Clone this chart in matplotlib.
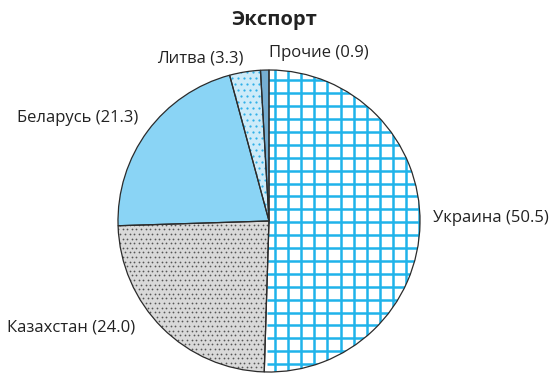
import numpy as np
import matplotlib
matplotlib.use('Agg')
import matplotlib.pyplot as plt
from matplotlib.patches import Wedge
from matplotlib.collections import LineCollection

plt.rcParams['font.family'] = ['Open Sans', 'DejaVu Sans']

title = 'Экспорт'
countries = ['Украина', 'Казахстан', 'Беларусь', 'Литва', 'Прочие']
shares = [50.5, 24.0, 21.3, 3.3, 0.9]

# label anchor (x, y in pixels from top-left) and horizontal alignment
label_pos = [(433, 218, 'left'), (135, 327, 'right'), (138, 118, 'right'),
             (200, 58, 'center'), (319, 53, 'center')]

W, H = 549, 374
fig = plt.figure(figsize=(W / 100, H / 100), dpi=100)
ax = fig.add_axes([0, 0, 1, 1])

cx, cy, r = 269, H - 221, 151
wedges, _ = ax.pie(shares, startangle=90, counterclock=False,
                   center=(cx, cy), radius=r)
ax.set_xlim(0, W)
ax.set_ylim(0, H)
ax.set_aspect('equal')
ax.axis('off')

faces = ['white', '#d9d9d9', '#8ad4f5', '#cdebf9', '#75aed2']
for w, fc in zip(wedges, faces):
    w.set_facecolor(fc)
    w.set_edgecolor('none')
    w.set_zorder(1)

# grid pattern for the first slice
grid_w = wedges[0]
xs = np.arange(cx + 6, cx + r + 2, 13.1)
ys = np.arange(cy - r - 5, cy + r + 5, 12.9)
segs = [[(x, cy - r - 5), (x, cy + r + 5)] for x in xs]
segs += [[(cx - 2, y), (cx + r + 5, y)] for y in ys]
lc = LineCollection(segs, colors='#1fb3ea', linewidths=1.8, zorder=2)
ax.add_collection(lc)
lc.set_clip_path(grid_w)


def dot_fill(wedge, step, color, size):
    gx = np.arange(cx - r - step, cx + r + step, step)
    gy = np.arange(cy - r - step, cy + r + step, step)
    pts = []
    for j, y in enumerate(gy):
        off = (step / 2) if j % 2 else 0
        for x in gx:
            pts.append((x + off, y))
    pts = np.array(pts)
    sc = ax.scatter(pts[:, 0], pts[:, 1], s=size, c=color, marker='o',
                    linewidths=0, zorder=2)
    sc.set_clip_path(wedge)


dot_fill(wedges[1], 4.6, '#555555', 1.6)
dot_fill(wedges[3], 6.0, '#2fb0e8', 2.6)

# outlines on top of the patterns
for w in wedges:
    ax.add_patch(Wedge(w.center, w.r, w.theta1, w.theta2, fill=False,
                       edgecolor='#2b2b2b', linewidth=0.9, zorder=3))

for name, val, (x, y, ha) in zip(countries, shares, label_pos):
    ax.text(x, H - y, f'{name} ({val:.1f})', ha=ha, va='center',
            fontsize=12, color='#222222')

ax.text(274, H - 20, title, ha='center', va='center', fontsize=14.5,
        fontweight='bold', color='#222222')

fig.savefig('out.png', dpi=100)
